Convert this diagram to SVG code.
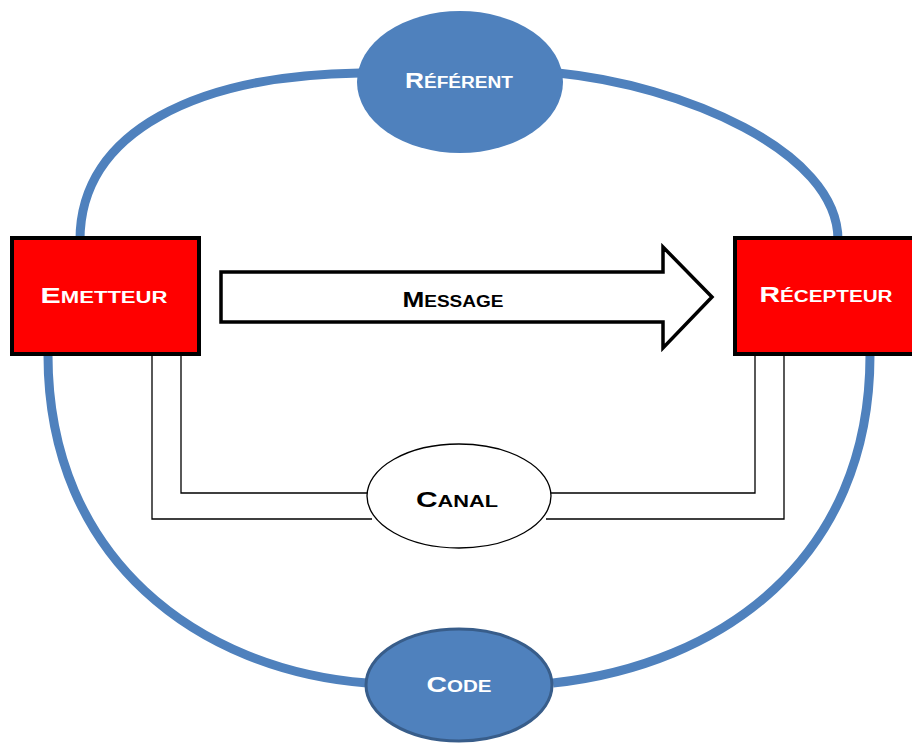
<svg xmlns="http://www.w3.org/2000/svg" width="912" height="743" viewBox="0 0 912 743">
<style>
.loop{fill:none;stroke:#4F81BD;stroke-width:9}
.wire{fill:none;stroke:#000;stroke-width:1.3}
.box{fill:#FF0000;stroke:#000;stroke-width:4}
.blue{fill:#4F81BD}
.lbl{font-family:"Liberation Sans",Arial,sans-serif;font-weight:bold;text-anchor:middle}
.w{fill:#fff}
.k{fill:#000}
.big{font-size:22px}
.sm{font-size:16px}
</style>
<rect width="912" height="743" fill="#fff"/>
<g id="connectors">
<path class="loop" d="M360 73 C200 75 80 130 80 240 L48 355 C48 560 200 670 367 683"/>
<path class="loop" d="M558 73 C680 85 838 150 838 240 L870 355 C870 560 720 665 553 683"/>
<path class="wire" d="M152 355 V519 H372 M181 355 V493 H368 M755 355 V493 H550 M784 355 V519 H546"/>
</g>
<g id="referent">
<ellipse class="blue" cx="460" cy="82" rx="103" ry="71"/>
<text class="lbl w" x="459" y="88" textLength="108" lengthAdjust="spacingAndGlyphs"><tspan class="big">R</tspan><tspan class="sm">ÉFÉRENT</tspan></text>
</g>
<g id="emetteur">
<rect class="box" x="12" y="238" width="187" height="116"/>
<text class="lbl w" x="104" y="303" textLength="127" lengthAdjust="spacingAndGlyphs"><tspan class="big">E</tspan><tspan class="sm">METTEUR</tspan></text>
</g>
<g id="recepteur">
<rect class="box" x="735" y="238" width="190" height="116"/>
<text class="lbl w" x="826" y="302" textLength="133" lengthAdjust="spacingAndGlyphs"><tspan class="big">R</tspan><tspan class="sm">ÉCEPTEUR</tspan></text>
</g>
<g id="message">
<path d="M221 272 H663 V247 L712 297 L663 348 V322 H221 Z" fill="#fff" stroke="#000" stroke-width="3.5" stroke-linejoin="miter"/>
<text class="lbl k" x="453" y="307" textLength="101" lengthAdjust="spacingAndGlyphs"><tspan class="big">M</tspan><tspan class="sm">ESSAGE</tspan></text>
</g>
<g id="canal">
<ellipse cx="459" cy="496" rx="92" ry="52" fill="#fff" stroke="#000" stroke-width="1.3"/>
<text class="lbl k" x="457" y="507" textLength="82" lengthAdjust="spacingAndGlyphs"><tspan class="big">C</tspan><tspan class="sm">ANAL</tspan></text>
</g>
<g id="code">
<ellipse class="blue" cx="459" cy="685" rx="93" ry="56" stroke="#385D8A" stroke-width="3"/>
<text class="lbl w" x="459" y="692" textLength="65" lengthAdjust="spacingAndGlyphs"><tspan class="big">C</tspan><tspan class="sm">ODE</tspan></text>
</g>
</svg>
